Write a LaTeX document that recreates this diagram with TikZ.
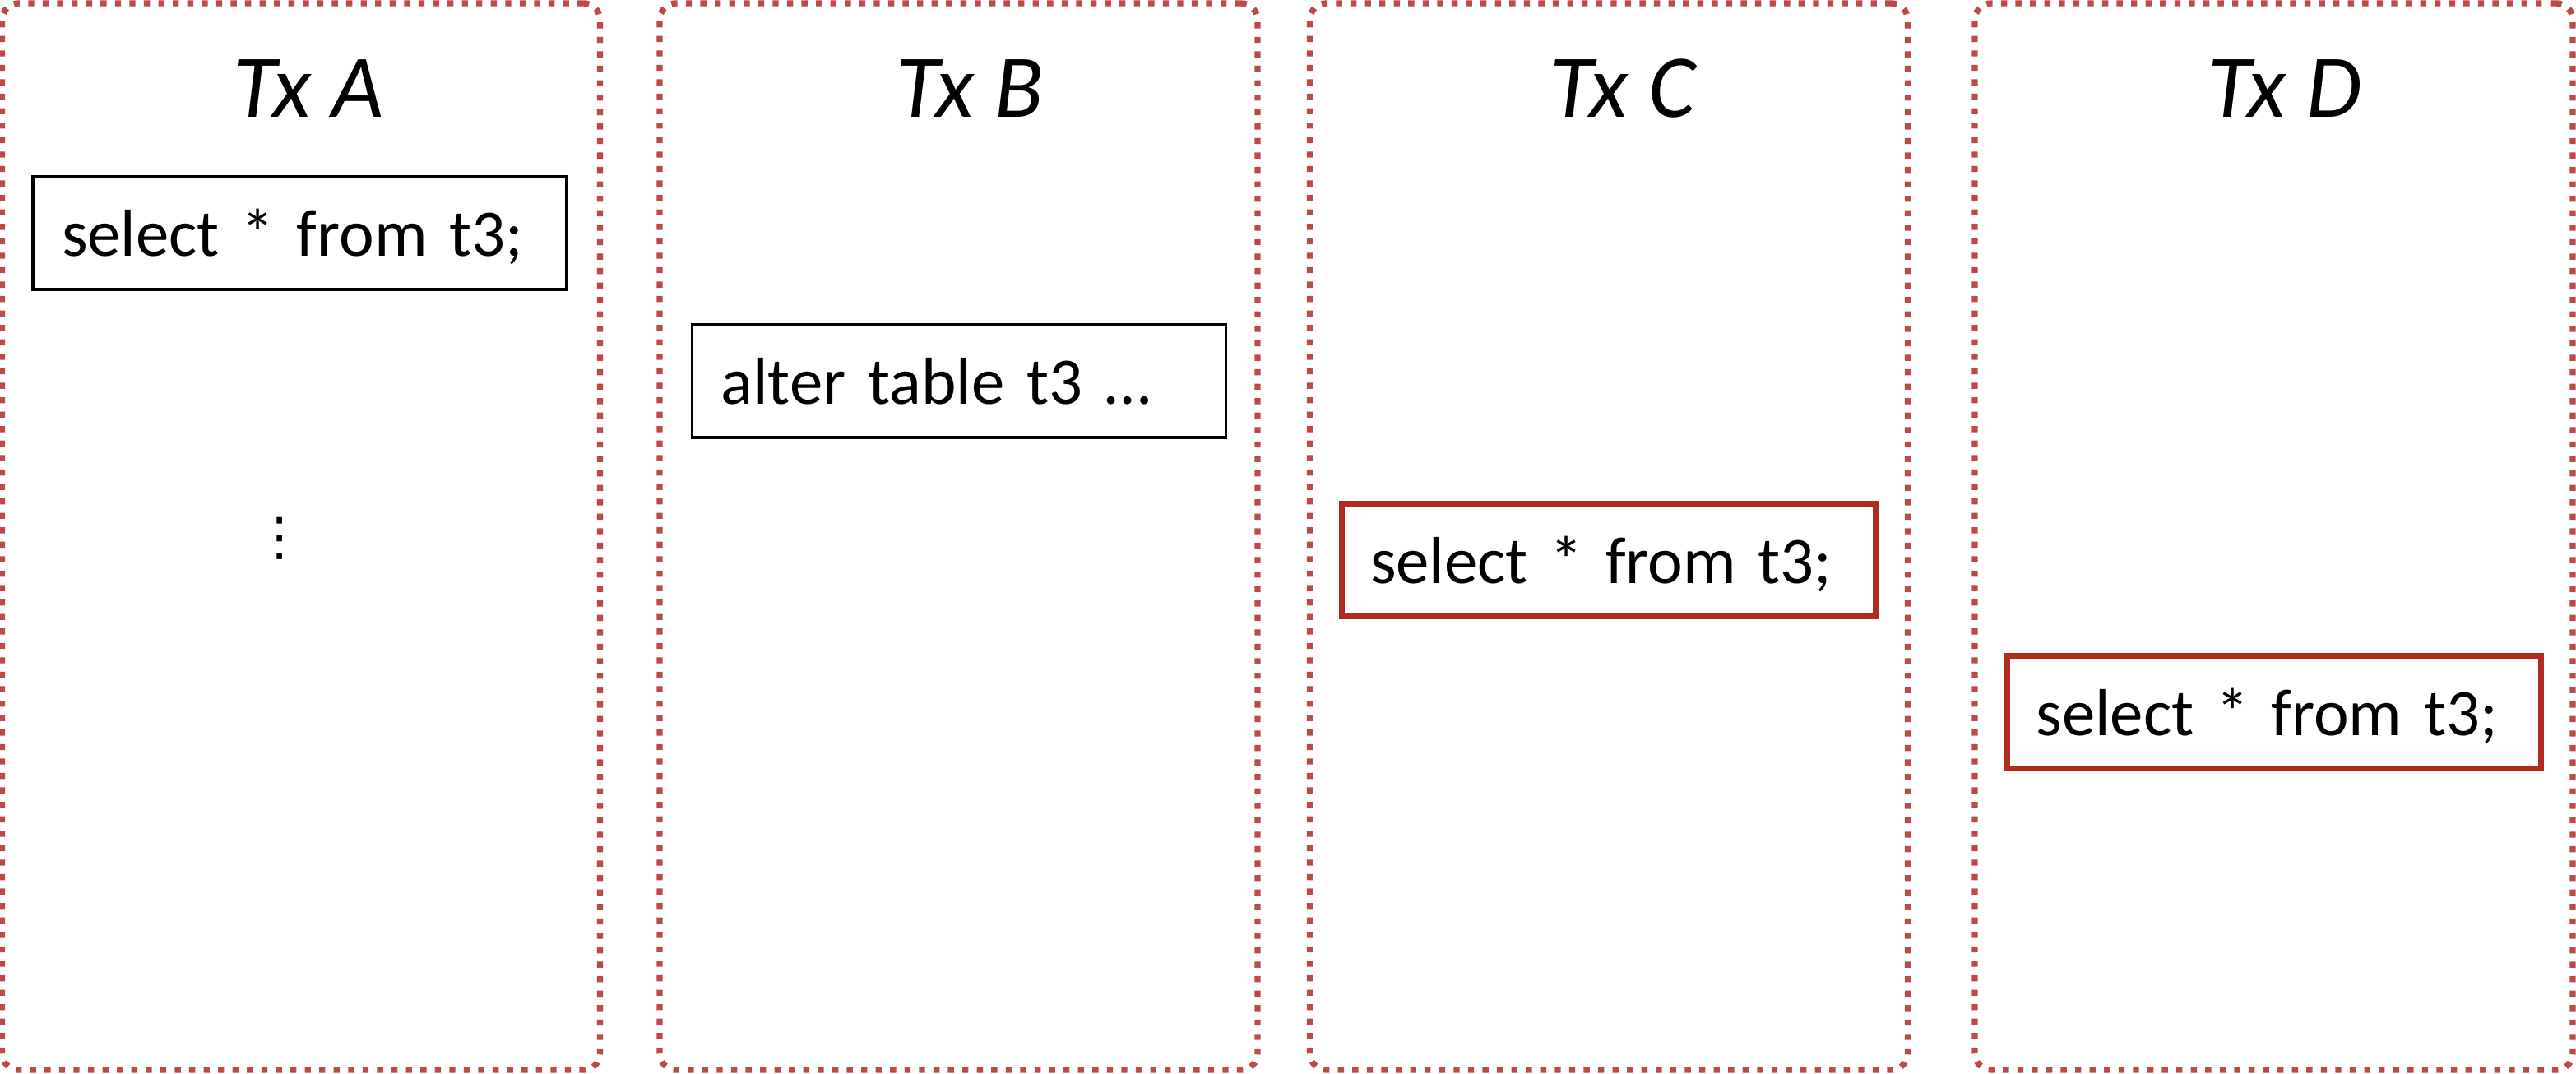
\documentclass[tikz,border=0pt]{standalone}
\usepackage{fontspec}
\setmainfont{Carlito}
\newfontfamily\symfont{DejaVu Sans}
\usepackage{tikz}
\tikzset{>=latex}
\definecolor{dotred}{RGB}{188,74,72}
\definecolor{boxred}{RGB}{176,44,32}
\tikzstyle{panel} = [draw=dotred, line width=2.1pt, dash pattern=on 2.1pt off 2.9pt, rounded corners=0.2cm, minimum width=7.27cm, minimum height=12.97cm, inner sep=0]
\tikzstyle{txtitle} = [anchor=base, font=\fontsize{31}{36}\selectfont\itshape]
\tikzstyle{stmt} = [draw=black, line width=0.9pt, minimum width=6.49cm, minimum height=1.37cm, text width=5.79cm, inner xsep=0.35cm, align=left, font=\fontsize{23}{28}\selectfont, text height=19pt, text depth=3pt]
\tikzstyle{hot} = [stmt, draw=boxred, line width=2pt]
\newcommand{\txpanel}[3]{
\node[panel] (p#1) at (#2,-6.525) {};
\node[txtitle] (t#1) at (#3,-1.43) {Tx #1};
}

\begin{document}
\begin{tikzpicture}
		\useasboundingbox (0,0) rectangle (31.32,-13.06);
		
		% Panels
		\txpanel{A}{3.66}{3.75}
		\txpanel{B}{11.655}{11.79}
		\txpanel{C}{19.56}{19.73}
		\txpanel{D}{27.645}{27.78}
		
		% Statements
		\node[stmt] (sA) at (3.645,-2.835) {select * from t3;};
		\node[stmt] (sB) at (11.66,-4.635) {alter table t3 …};
		\node[hot] (sC) at (19.555,-6.81) {select * from t3;};
		\node[hot] (sD) at (27.65,-8.66) {select * from t3;};
		
		% Dots
		\node[font=\symfont\fontsize{18}{18}\selectfont] (dA) at (3.40,-6.55) {⋮};
	\end{tikzpicture}
\end{document}
